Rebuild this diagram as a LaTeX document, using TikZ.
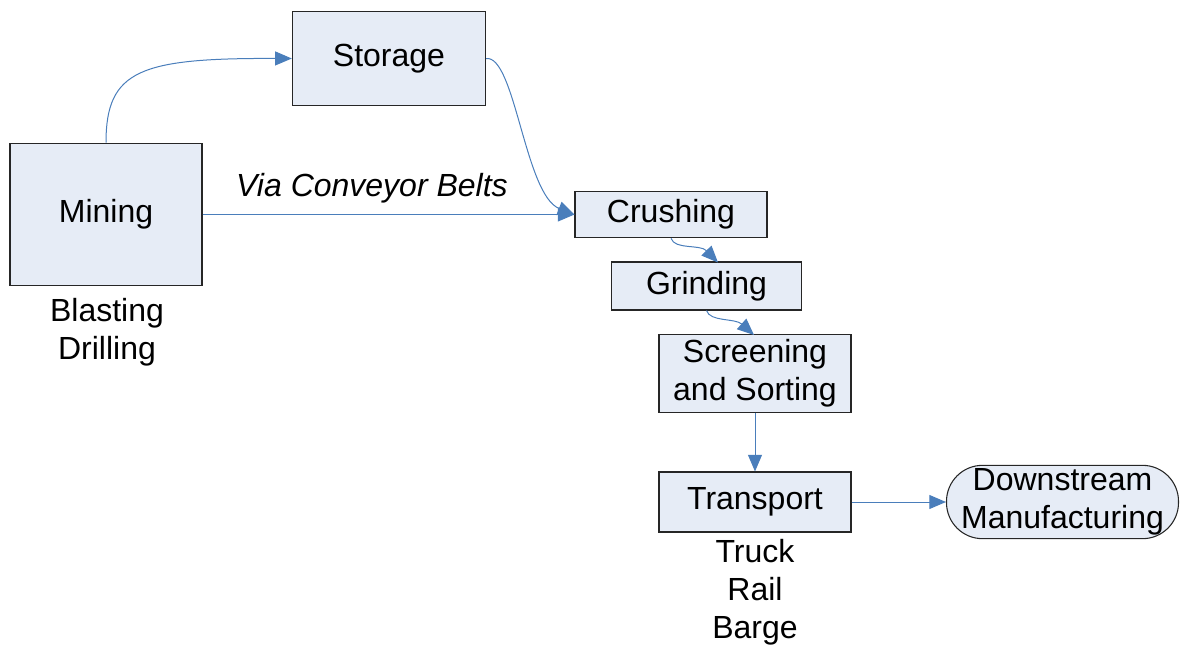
\documentclass[tikz,border=0pt]{standalone}
\usepackage{fontspec}
\setmainfont{Liberation Sans}
\usetikzlibrary{arrows.meta}
\definecolor{boxfill}{RGB}{230,236,246}
\definecolor{arrblue}{RGB}{74,126,187}
\begin{document}
\begin{tikzpicture}[x=0.75pt,y=-0.75pt,
  box/.style={draw=black!85,line width=0.8pt,fill=boxfill,inner sep=0pt,align=center,font=\fontsize{24}{28.5}\selectfont},
  lbl/.style={inner sep=0pt,align=center,font=\fontsize{24}{28.5}\selectfont},
  arr/.style={draw=arrblue,line width=0.75pt,-{Triangle[length=12.5pt,width=10.5pt]}}]
\useasboundingbox (0,0) rectangle (1180,646);
\node[box,minimum width=144pt,minimum height=107pt] (mining) at (106,214.5) {Mining};
\node[box,minimum width=145pt,minimum height=71pt] (storage) at (389,58.5) {Storage};
\node[box,minimum width=144pt,minimum height=35pt] (crushing) at (671,214.5) {Crushing};
\node[box,minimum width=143pt,minimum height=36pt] (grinding) at (706.5,286) {Grinding};
\node[box,minimum width=144pt,minimum height=58pt] (screening) at (755,373.5) {Screening\\and Sorting};
\node[box,minimum width=144pt,minimum height=45pt] (transport) at (755,502) {Transport};
\node[box,rounded corners=27pt,minimum width=174pt,minimum height=55pt,text width=174pt] (down) at (1062.5,502) {Downstream\\Manufacturing};
\node[lbl] (via) at (372,188) {\itshape Via Conveyor Belts};
\node[lbl] (blast) at (107,332) {Blasting\\Drilling};
\node[lbl] (truck) at (755,592) {Truck\\Rail\\Barge};
\draw[arr] (mining.north) .. controls (106,70) and (140,58) .. (storage.west);
\draw[arr] (storage.east) .. controls (515,55) and (525,195) .. (crushing.west);
\draw[arr] (mining.east) -- (crushing.west);
\draw[arr] (crushing.south) .. controls (675,250) and (700,244) .. (718,262.5);
\draw[arr] (grinding.south) .. controls (710,322) and (735,318) .. (754,335);
\draw[arr] (screening.south) -- (transport.north);
\draw[arr] (transport.east) -- (down.west);
\end{tikzpicture}
\end{document}
